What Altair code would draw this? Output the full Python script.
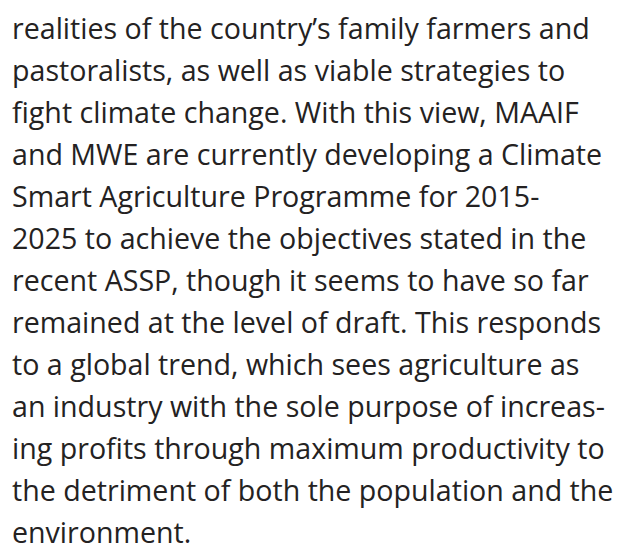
import altair as alt
import pandas as pd

lines = [
    "realities of the country\u2019s family farmers and",
    "pastoralists, as well as viable strategies to",
    "fight climate change. With this view, MAAIF",
    "and MWE are currently developing a Climate",
    "Smart Agriculture Programme for 2015-",
    "2025 to achieve the objectives stated in the",
    "recent ASSP, though it seems to have so far",
    "remained at the level of draft. This responds",
    "to a global trend, which sees agriculture as",
    "an industry with the sole purpose of increas-",
    "ing profits through maximum productivity to",
    "the detriment of both the population and the",
    "environment.",
]
line_index = list(range(len(lines)))

df = pd.DataFrame({"line": line_index, "text": lines})

chart = alt.Chart(df).mark_text(
    align="left", baseline="alphabetic", font="Open Sans", fontSize=28.6, color="#242222"
).encode(
    x=alt.value(4),
    y=alt.Y("line:Q", scale=alt.Scale(domain=[0, 12], range=[31, 535]), axis=None),
    text="text:N",
).properties(
    width=610, height=544, padding=0, autosize=alt.AutoSizeParams(type="none")
).configure_view(stroke=None)

chart.save("out.html", embed_options={"renderer": "svg", "actions": False})
